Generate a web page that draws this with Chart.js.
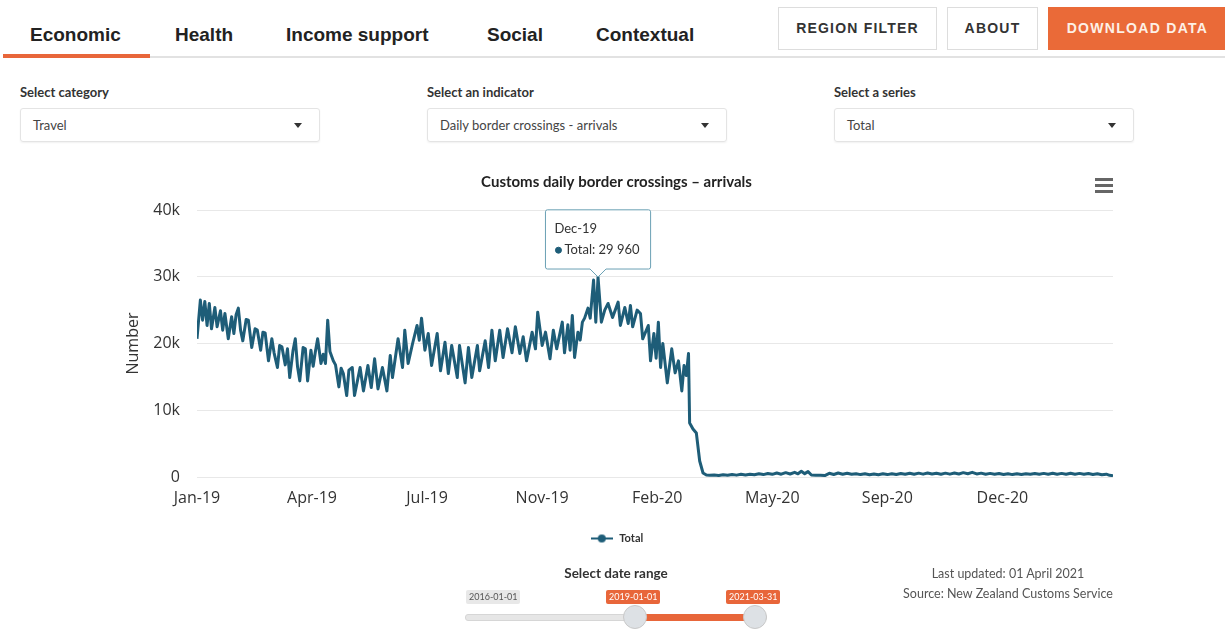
<!DOCTYPE html>
<html>
<head>
<meta charset="utf-8">
<script src="https://cdn.jsdelivr.net/npm/chart.js@4.4.1/dist/chart.umd.min.js"></script>
<style>
  body { margin: 0; width: 1225px; height: 629px; overflow: hidden; background: #fff; position: relative; font-family: Lato, sans-serif; }
  .abs { position: absolute; white-space: nowrap; }
  .tab { font-family: "Liberation Sans", Arial, sans-serif; font-weight: bold; font-size: 19px; color: #222; top: 24px; line-height: 22px; }
  .btn { top: 7px; height: 41px; border: 1px solid #ddd; box-sizing: content-box; font-family: "Liberation Sans", Arial, sans-serif; font-weight: bold; font-size: 14px; letter-spacing: 1.2px; color: #333; line-height: 41px; text-align: center; }
  .lbl { font-size: 13px; font-weight: bold; color: #333; top: 84px; line-height: 16px; }
  .sel { top: 108px; width: 298px; height: 32px; border: 1px solid #e4e4e4; border-radius: 3px; box-shadow: 0 1px 2px rgba(0,0,0,0.06); }
  .sel span { position: absolute; left: 12px; top: 8px; font-size: 13px; color: #444; line-height: 16px; }
  .sel i { position: absolute; right: 17px; top: 14px; width: 0; height: 0; border-left: 4px solid transparent; border-right: 4px solid transparent; border-top: 5px solid #333; }
  .bar { position: absolute; left: 0; width: 18px; height: 2.5px; background: #666; }
  .tag { font-size: 9px; line-height: 14px; height: 14px; padding: 0 3px; border-radius: 2px; }
  .foot { font-size: 12.5px; color: #555; line-height: 16px; text-align: center; width: 300px; left: 858px; }
</style>
</head>
<body>
  <div class="abs tab" style="left:30px">Economic</div>
  <div class="abs tab" style="left:175px">Health</div>
  <div class="abs tab" style="left:286px">Income support</div>
  <div class="abs tab" style="left:487px">Social</div>
  <div class="abs tab" style="left:596px">Contextual</div>
  <div class="abs" style="left:150px;top:56px;width:1075px;height:2px;background:#e2e2e2"></div>
  <div class="abs" style="left:3px;top:54px;width:147px;height:4px;background:#e8663a"></div>

  <div class="abs btn" style="left:778px;width:157px">REGION FILTER</div>
  <div class="abs btn" style="left:947px;width:89px">ABOUT</div>
  <div class="abs btn" style="left:1048px;width:177px;border-color:#ea6a38;background:#ea6a38;color:#fdf0e6;letter-spacing:1.3px">DOWNLOAD DATA</div>

  <div class="abs lbl" style="left:20px">Select category</div>
  <div class="abs sel" style="left:20px"><span>Travel</span><i></i></div>
  <div class="abs lbl" style="left:427px">Select an indicator</div>
  <div class="abs sel" style="left:427px"><span>Daily border crossings - arrivals</span><i></i></div>
  <div class="abs lbl" style="left:834px">Select a series</div>
  <div class="abs sel" style="left:834px"><span>Total</span><i></i></div>

  <canvas id="chart" width="1225" height="411" style="position:absolute;left:0;top:160px"></canvas>

  <div class="abs" style="left:1095px;top:178px;width:18px;height:16px">
    <div class="bar" style="top:0"></div>
    <div class="bar" style="top:6px"></div>
    <div class="bar" style="top:12px"></div>
  </div>

  <div class="abs" style="left:516px;width:200px;text-align:center;top:565px;font-size:13.5px;font-weight:bold;color:#333;line-height:16px">Select date range</div>
  <div class="abs" style="left:465px;top:614px;width:300px;height:5px;background:#e6e6e6;border:1px solid #d6d6d6;border-radius:3px"></div>
  <div class="abs" style="left:635px;top:614px;width:120px;height:7px;background:#e8663a"></div>
  <div class="abs" style="left:623px;top:605px;width:22px;height:22px;border-radius:50%;background:#dde1e5;border:1px solid #c8c8c8"></div>
  <div class="abs" style="left:743px;top:605px;width:22px;height:22px;border-radius:50%;background:#dde1e5;border:1px solid #c8c8c8"></div>
  <div class="abs tag" style="left:466px;top:590px;background:#e8e8e8;color:#555">2016-01-01</div>
  <div class="abs tag" style="left:606px;top:590px;background:#e8663a;color:#fff">2019-01-01</div>
  <div class="abs tag" style="left:726px;top:590px;background:#e8663a;color:#fff">2021-03-31</div>

  <div class="abs foot" style="top:566px">Last updated: 01 April 2021</div>
  <div class="abs foot" style="top:586px">Source: New Zealand Customs Service</div>

<script>
// days counted from 2019-01-01
const days = [
  0, 3, 5, 7, 9, 11, 13, 16, 18, 21, 23, 25, 28, 31, 33, 35, 37, 39, 41, 44,
  46, 49, 52, 54, 57, 59, 61, 64, 67, 69, 72, 74, 76, 79, 81, 83, 86, 88, 90, 92,
  95, 97, 99, 102, 104, 106, 108, 111, 113, 115, 117, 119, 122, 124, 127, 129, 131, 134, 136, 139,
  141, 146, 149, 153, 156, 159, 162, 166, 170, 173, 175, 180, 184, 186, 189, 193, 197, 199, 201, 204,
  207, 210, 215, 218, 222, 225, 228, 233, 235, 240, 243, 246, 251, 253, 258, 261, 264, 267, 271, 274,
  278, 282, 285, 289, 292, 295, 300, 303, 305, 309, 312, 316, 319, 322, 327, 329, 332, 334, 336, 338,
  341, 343, 345, 347, 350, 352, 355, 357, 359, 362, 365, 368, 372, 377, 379, 383, 386, 388, 390, 394,
  397, 399, 404, 406, 409, 411, 413, 415, 417, 421, 425, 428, 431, 434, 436, 438, 440, 441, 444, 447,
  450, 453, 456, 459, 463, 467, 471, 475, 479, 483, 487, 491, 495, 499, 503, 507, 511, 515, 519, 523,
  527, 531, 535, 538, 541, 544, 547, 550, 554, 558, 562, 566, 570, 574, 578, 582, 586, 590, 594, 598,
  602, 606, 610, 614, 618, 622, 626, 630, 634, 638, 642, 646, 650, 654, 658, 662, 666, 670, 674, 678,
  682, 686, 690, 694, 698, 702, 706, 710, 714, 718, 722, 726, 730, 734, 738, 742, 746, 750, 754, 758,
  762, 766, 770, 774, 778, 782, 786, 790, 794, 798, 802, 806, 810, 814, 817, 820
];
const arrivals = [
  20700, 26500, 23500, 26300, 22700, 26000, 22200, 25400, 22500, 24900, 22000, 24500, 20700, 24000, 21500, 24300, 25300, 22000, 20400, 23600,
  23500, 19400, 22200, 22000, 19000, 21700, 21600, 17400, 20700, 18600, 16400, 19700, 19500, 16800, 19200, 14900, 19000, 20700, 16500, 14400,
  19400, 19200, 14400, 19000, 16600, 18800, 20700, 17000, 18400, 17000, 23500, 18800, 17400, 16800, 13500, 16300, 15500, 12200, 16000, 16400,
  12200, 16400, 12900, 16700, 13400, 17700, 13200, 16400, 12900, 18200, 14900, 20700, 16400, 22000, 17000, 20000, 22700, 20500, 23800, 19000,
  21500, 16700, 21500, 15900, 20200, 15500, 19700, 14900, 19700, 14100, 19400, 14900, 19700, 15900, 20400, 16400, 22000, 17400, 22000, 17900,
  22200, 18600, 22500, 18500, 21000, 17400, 21700, 19200, 24700, 19700, 21700, 17700, 22000, 19200, 23200, 18600, 22800, 19000, 24200, 17900,
  21700, 20500, 23200, 23800, 25300, 23800, 29500, 23200, 29960, 23200, 25000, 26000, 23900, 26200, 22700, 25400, 23000, 25700, 22500, 25000,
  24500, 20700, 22700, 17400, 21500, 17800, 23200, 16400, 20000, 14100, 19200, 15600, 17400, 12900, 16700, 15200, 18500, 8100, 7200, 6600,
  2400, 600, 300, 250, 300, 220, 350, 260, 380, 280, 400, 300, 420, 330, 480, 360, 520, 400, 600, 420,
  650, 450, 700, 480, 850, 500, 800, 300, 250, 280, 220, 550, 380, 600, 420, 560, 400, 500, 360, 480,
  340, 460, 350, 480, 360, 500, 380, 520, 400, 560, 420, 580, 430, 600, 440, 560, 420, 580, 430, 600,
  450, 650, 480, 700, 460, 580, 420, 540, 400, 520, 380, 500, 360, 480, 380, 500, 400, 520, 400, 540,
  420, 560, 420, 540, 400, 560, 420, 540, 400, 520, 380, 500, 350, 420, 250, 200
];
const tickDays = [0, 103, 206, 309, 412, 515, 618, 721];
const tickLabels = ['Jan-19', 'Apr-19', 'Jul-19', 'Nov-19', 'Feb-20', 'May-20', 'Sep-20', 'Dec-20'];
const yTicks = [0, 10000, 20000, 30000, 40000];
const seriesName = 'Total';
const highlightDay = 359;

const lineColor = '#1e5d78';
const monthNames = ['Jan', 'Feb', 'Mar', 'Apr', 'May', 'Jun', 'Jul', 'Aug', 'Sep', 'Oct', 'Nov', 'Dec'];

function dayLabel(d) {
  const dt = new Date(2019, 0, 1 + d);
  return monthNames[dt.getMonth()] + '-' + String(dt.getFullYear()).slice(2);
}
function spaced(n) {
  return String(Math.round(n)).replace(/\B(?=(\d{3})+(?!\d))/g, ' ');
}

// legend marker: line with a dot
const marker = document.createElement('canvas');
marker.width = 22;
marker.height = 10;
const mctx = marker.getContext('2d');
mctx.strokeStyle = lineColor;
mctx.lineWidth = 2;
mctx.beginPath();
mctx.moveTo(0, 5);
mctx.lineTo(22, 5);
mctx.stroke();
mctx.fillStyle = lineColor;
mctx.beginPath();
mctx.arc(11, 5, 4, 0, Math.PI * 2);
mctx.fill();

const points = days.map((d, i) => ({ x: d, y: arrivals[i] }));

const chart = new Chart(document.getElementById('chart'), {
  type: 'line',
  data: {
    datasets: [{
      label: seriesName,
      data: points,
      borderColor: lineColor,
      backgroundColor: lineColor,
      borderWidth: 3,
      borderJoinStyle: 'round',
      pointRadius: 0,
      pointHoverRadius: 0,
      tension: 0
    }]
  },
  options: {
    responsive: false,
    animation: false,
    events: [],
    layout: { padding: { left: 120, right: 112, top: 0, bottom: 17 } },
    plugins: {
      title: {
        display: true,
        text: 'Customs daily border crossings – arrivals',
        color: '#222',
        font: { family: 'Lato', size: 15, weight: 'bold', lineHeight: 1.2 },
        padding: { top: 13, bottom: 19 }
      },
      legend: {
        position: 'bottom',
        labels: {
          usePointStyle: true,
          pointStyleWidth: 24,
          padding: 16,
          color: '#333',
          font: { family: 'Lato', size: 11, weight: 'bold' },
          generateLabels: () => [{
            text: seriesName,
            pointStyle: marker,
            fillStyle: lineColor,
            strokeStyle: lineColor,
            lineWidth: 0,
            hidden: false,
            datasetIndex: 0,
            fontColor: '#333'
          }]
        }
      },
      tooltip: {
        enabled: true,
        backgroundColor: 'rgba(255,255,255,0.96)',
        borderColor: '#6aa0b4',
        borderWidth: 1,
        titleColor: '#333',
        bodyColor: '#333',
        titleFont: { family: 'Lato', size: 13, weight: 'normal' },
        bodyFont: { family: 'Lato', size: 13 },
        padding: { top: 11, bottom: 11, left: 9, right: 11 },
        titleMarginBottom: 6,
        caretSize: 8,
        caretPadding: 0,
        cornerRadius: 2,
        usePointStyle: true,
        boxWidth: 8,
        boxHeight: 6,
        xAlign: 'center',
        yAlign: 'bottom',
        callbacks: {
          title: items => dayLabel(items[0].parsed.x),
          label: item => seriesName + ': ' + spaced(item.parsed.y),
          labelColor: () => ({ borderColor: lineColor, backgroundColor: lineColor }),
          labelPointStyle: () => ({ pointStyle: 'circle', rotation: 0 })
        }
      }
    },
    scales: {
      x: {
        type: 'linear',
        min: 0,
        max: 820,
        grid: { display: false },
        border: { display: false },
        afterBuildTicks: s => { s.ticks = tickDays.map(v => ({ value: v })); },
        afterFit: s => { s.height = 40; },
        ticks: {
          autoSkip: false,
          maxRotation: 0,
          padding: 4,
          color: '#333',
          font: { family: 'Open Sans', size: 16 },
          callback: (v, i) => tickLabels[i]
        }
      },
      y: {
        min: 0,
        max: 40000,
        afterBuildTicks: s => { s.ticks = yTicks.map(v => ({ value: v })); },
        afterFit: s => { s.width = 77; },
        grid: { color: '#e8e8e8', drawTicks: false },
        border: { display: false },
        ticks: {
          padding: 17,
          color: '#333',
          font: { family: 'Open Sans', size: 16 },
          callback: v => v === 0 ? '0' : (v / 1000) + 'k'
        },
        title: {
          display: true,
          text: 'Number',
          color: '#333',
          font: { family: 'Open Sans', size: 16 },
          padding: { top: 4, bottom: 0 }
        }
      }
    }
  }
});

const peakIndex = days.indexOf(highlightDay);
const peakEl = chart.getDatasetMeta(0).data[peakIndex];
chart.tooltip.setActiveElements([{ datasetIndex: 0, index: peakIndex }], { x: peakEl.x, y: peakEl.y });
chart.update();
</script>
</body>
</html>
